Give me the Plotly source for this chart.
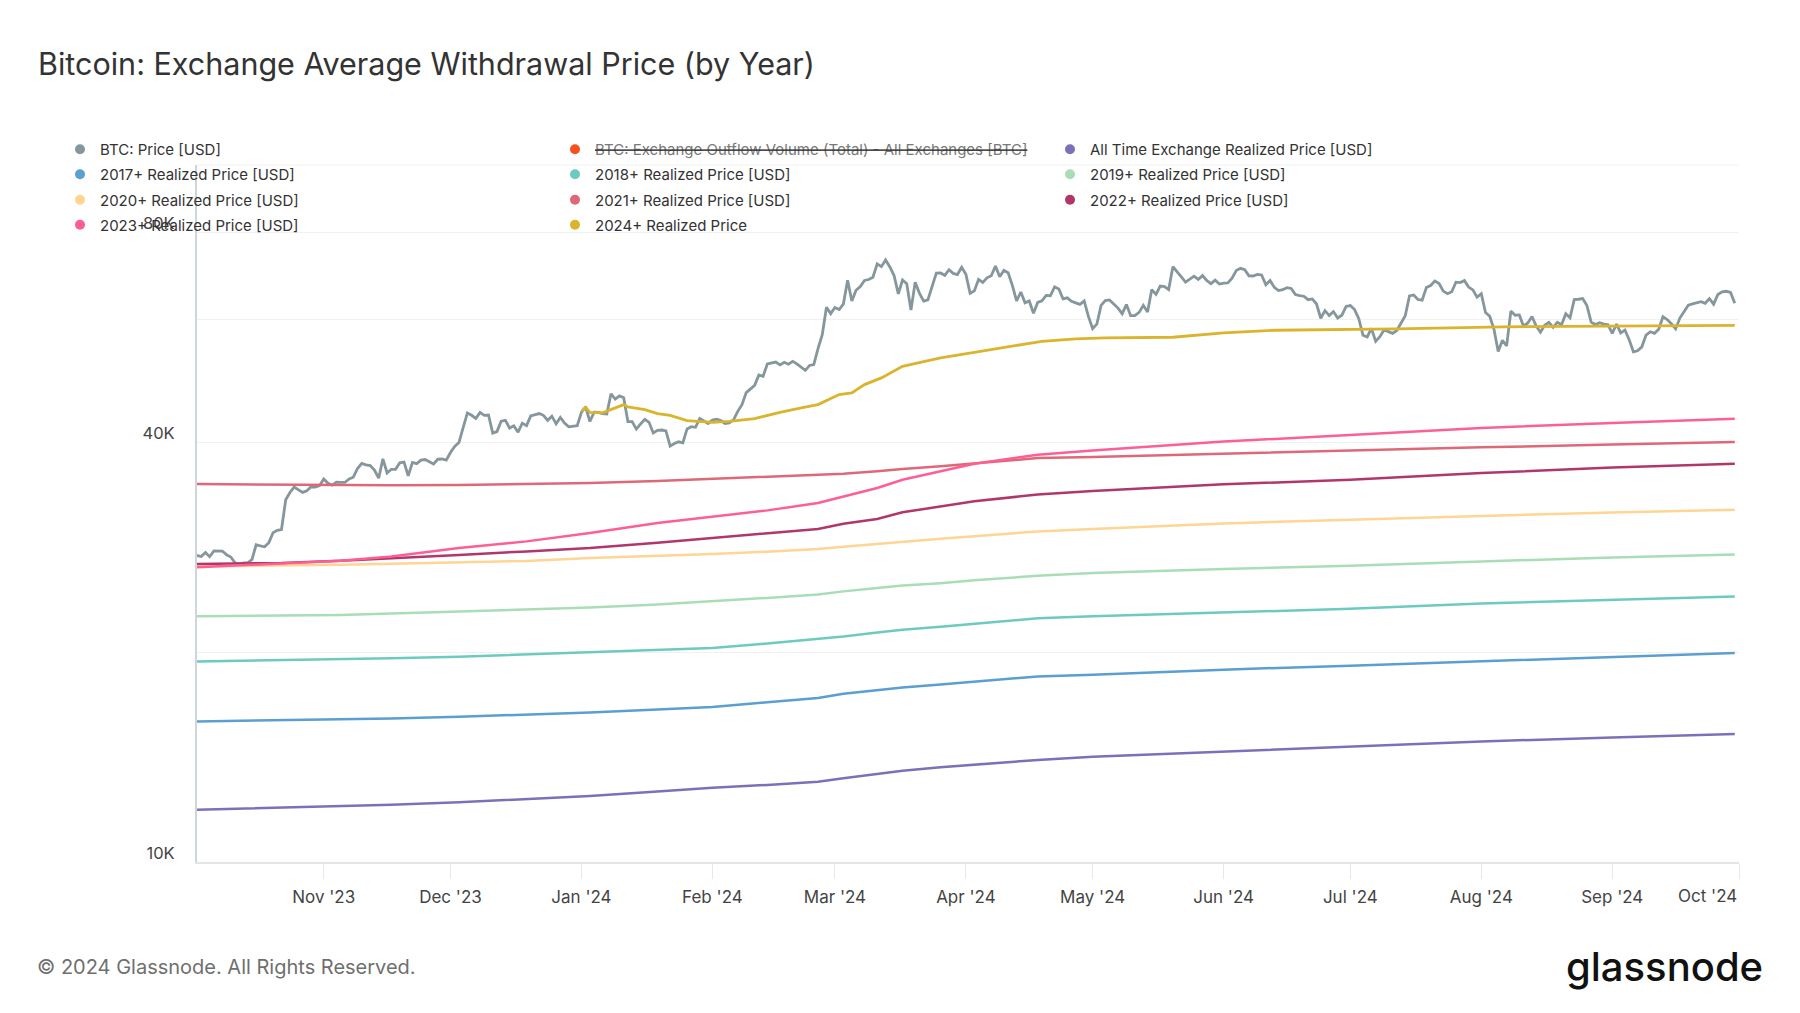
import pandas as pd
import plotly.graph_objects as go

# ---------------- DATA ----------------
# BTC daily price [USD], by month (first month starts 2023-10-02)
btc_oct23 = [27530, 27429, 27800, 27415, 27946, 27968, 27936, 27583, 27391, 26873, 26756, 26862, 26861, 27159, 28519,
             28415, 28328, 28719, 29682, 29919, 29992, 33086, 33901, 34502, 34156, 33909, 34089, 34538, 34502, 34667]
btc_nov23 = [35437, 34938, 34732, 35082, 35049, 35038, 35443, 35655, 36693, 37313, 37138, 37054, 36502, 35537, 37880,
             36154, 36596, 36585, 37386, 37476, 35813, 37432, 37289, 37720, 37797, 37479, 37254, 37831, 37859, 37712]
btc_dec23 = [38688, 39476, 39978, 41980, 44080, 43746, 43293, 44166, 43726, 43779, 41243, 41450, 42890, 43023, 41929,
             42240, 41364, 42623, 42270, 43652, 43869, 43997, 43740, 43016, 43613, 42520, 43442, 42627, 42100, 42156, 42265]
btc_jan24 = [44168, 44958, 42848, 44180, 44162, 43989, 43943, 46970, 46139, 46627, 46368, 42853, 42842, 41796, 42511,
             43154, 42742, 41262, 41618, 41665, 41545, 39507, 39845, 40077, 39933, 41816, 42120, 42035, 43288, 42952, 42582]
btc_feb24 = [43075, 43185, 42992, 42583, 42658, 43084, 44319, 45301, 47147, 47771, 48293, 49958, 49742, 51826, 51938,
             52160, 51663, 52122, 51780, 52284, 51839, 51305, 50731, 51571, 51733, 54522, 57085, 62504, 61198]
btc_mar24 = [62440, 62029, 63167, 68330, 63801, 66106, 66925, 68300, 68498, 69019, 72123, 71481, 73083, 71397, 69403,
             65316, 68390, 67548, 61912, 67913, 65491, 63779, 64062, 67234, 69958, 69987, 69455, 70744, 69892, 69645, 71333]
btc_apr24 = [69702, 65446, 65980, 68508, 67838, 68896, 69362, 71632, 69140, 70587, 70060, 67195, 63821, 65738, 63426,
             63811, 61276, 63512, 63843, 64994, 64927, 66837, 66407, 64276, 64482, 63756, 63420, 63113, 63841, 60636]
btc_may24 = [58254, 59123, 62889, 63891, 64031, 63161, 62334, 61187, 63049, 60792, 60793, 61448, 62901, 61553, 66267,
             65231, 67051, 66940, 66278, 71448, 70136, 69122, 67929, 68526, 69265, 68518, 69394, 68296, 67578, 68364, 67491]
btc_jun24 = [67706, 67751, 68804, 70567, 71082, 70757, 69342, 69305, 69648, 69540, 67314, 68263, 66773, 66044, 66228,
             66676, 66505, 65175, 64974, 64828, 64096, 64253, 63181, 60277, 61804, 60812, 61612, 60320, 60887, 62678]
btc_jul24 = [62851, 62029, 60173, 56977, 56662, 58303, 55849, 56705, 58009, 57743, 57344, 57899, 59231, 60788, 64870,
             65097, 64119, 63975, 66710, 67164, 68154, 67585, 65927, 65372, 65777, 67912, 67813, 68255, 66819, 66201, 64620]
btc_aug24 = [65357, 61415, 60681, 58116, 53991, 56034, 55027, 61710, 60881, 60945, 58719, 59354, 60609, 58737, 57560,
             58894, 59478, 58483, 59493, 59012, 61175, 60381, 64094, 64178, 64333, 62880, 59504, 59027, 59388, 59119, 58970]
btc_sep24 = [57325, 59112, 57431, 57971, 56160, 53949, 54140, 54841, 57019, 57648, 57343, 58127, 60571, 60005, 59182,
             58192, 60309, 61649, 62940, 63192, 63394, 63648, 63329, 64301, 63143, 65181, 65790, 65888, 65635, 63330]
btc_month_starts = ['2023-10-02', '2023-11-01', '2023-12-01', '2024-01-01', '2024-02-01', '2024-03-01',
                    '2024-04-01', '2024-05-01', '2024-06-01', '2024-07-01', '2024-08-01', '2024-09-01']
btc_months = [btc_oct23, btc_nov23, btc_dec23, btc_jan24, btc_feb24, btc_mar24,
              btc_apr24, btc_may24, btc_jun24, btc_jul24, btc_aug24, btc_sep24]

# Realized prices [thousand USD] at shared dates
rp_dates = ['2023-10-02', '2023-10-22', '2023-11-05', '2023-11-17', '2023-12-03', '2023-12-19', '2024-01-03',
            '2024-01-19', '2024-02-01', '2024-02-14', '2024-02-26', '2024-03-03', '2024-03-11', '2024-03-17',
            '2024-03-26', '2024-04-03', '2024-04-18', '2024-05-01', '2024-06-01', '2024-07-01', '2024-08-01',
            '2024-09-01', '2024-09-30']
rp_all_time = [11.88, 11.96, 12.02, 12.08, 12.18, 12.30, 12.44, 12.62, 12.78, 12.90, 13.04, 13.19, 13.38, 13.52,
               13.68, 13.80, 14.01, 14.16, 14.40, 14.64, 14.89, 15.09, 15.26]
rp_2017 = [15.91, 15.97, 16.01, 16.07, 16.16, 16.26, 16.38, 16.55, 16.69, 16.95, 17.19, 17.43, 17.65, 17.80,
           17.98, 18.14, 18.46, 18.57, 18.88, 19.13, 19.40, 19.68, 19.95]
rp_2018 = [19.40, 19.47, 19.53, 19.60, 19.70, 19.85, 20.01, 20.16, 20.28, 20.58, 20.89, 21.07, 21.35, 21.54,
           21.75, 21.96, 22.37, 22.52, 22.82, 23.08, 23.49, 23.80, 24.04]
rp_2019 = [22.52, 22.57, 22.62, 22.72, 22.87, 23.02, 23.18, 23.42, 23.66, 23.93, 24.19, 24.45, 24.72, 24.92,
           25.12, 25.36, 25.74, 25.98, 26.32, 26.61, 26.99, 27.35, 27.62]
rp_2020 = [26.55, 26.62, 26.70, 26.79, 26.90, 27.04, 27.30, 27.48, 27.66, 27.88, 28.12, 28.33, 28.60, 28.84,
           29.08, 29.33, 29.80, 30.05, 30.60, 30.98, 31.39, 31.74, 32.02]
rp_2021 = [34.85, 34.78, 34.74, 34.72, 34.74, 34.82, 34.98, 35.20, 35.45, 35.65, 35.87, 36.06, 36.35, 36.63,
           36.95, 37.28, 37.98, 38.12, 38.56, 38.93, 39.35, 39.71, 40.06]
rp_2022 = [26.76, 26.85, 27.05, 27.30, 27.58, 27.90, 28.21, 28.72, 29.17, 29.65, 30.04, 30.57, 31.05, 31.75,
           32.37, 32.92, 33.67, 34.05, 34.82, 35.36, 36.15, 36.80, 37.28]
rp_2023 = [26.47, 26.79, 27.06, 27.44, 28.21, 28.84, 29.65, 30.64, 31.26, 31.95, 32.74, 33.46, 34.41, 35.36,
           36.34, 37.28, 38.41, 38.95, 40.10, 41.04, 41.96, 42.66, 43.23]

rp_2024_dates = ['2024-01-01', '2024-01-02', '2024-01-03', '2024-01-06', '2024-01-11', '2024-01-12', '2024-01-16',
                 '2024-01-19', '2024-01-22', '2024-01-26', '2024-02-01', '2024-02-05', '2024-02-11', '2024-02-17',
                 '2024-02-22', '2024-02-26', '2024-03-02', '2024-03-05', '2024-03-08', '2024-03-12', '2024-03-17',
                 '2024-03-23', '2024-03-26', '2024-04-03', '2024-04-11', '2024-04-19', '2024-04-27', '2024-05-04',
                 '2024-05-20', '2024-06-01', '2024-06-13', '2024-07-12', '2024-08-06', '2024-09-07', '2024-09-30']
rp_2024 = [44.33, 44.92, 44.18, 44.09, 45.31, 44.97, 44.57, 43.99, 43.74, 42.98, 42.74, 42.88, 43.27, 44.18,
           44.82, 45.31, 46.85, 47.10, 48.41, 49.49, 51.42, 52.45, 52.87, 53.86, 54.83, 55.86, 56.30, 56.49,
           56.61, 57.43, 57.93, 58.20, 58.59, 58.84, 58.89]

x_tick_dates = ['2023-11-01', '2023-12-01', '2024-01-01', '2024-02-01', '2024-03-01', '2024-04-01',
                '2024-05-01', '2024-06-01', '2024-07-01', '2024-08-01', '2024-09-01', '2024-10-01']
x_tick_text = ["Nov '23", "Dec '23", "Jan '24", "Feb '24", "Mar '24", "Apr '24",
               "May '24", "Jun '24", "Jul '24", "Aug '24", "Sep '24", ""]
y_tick_vals = [10000, 20000, 40000, 60000, 80000, 100000]
y_tick_text = ['10K', '', '40K', '', '80K', '']

# ---------------- BUILD ----------------
btc_x, btc_y = [], []
for start, vals in zip(btc_month_starts, btc_months):
    btc_x += list(pd.date_range(start, periods=len(vals), freq='D'))
    btc_y += vals

K = lambda arr: [v * 1000 for v in arr]

series = [
    ('BTC: Price [USD]', '#85969c', btc_x, btc_y, 2.8),
    ('All Time Exchange Realized Price [USD]', '#7d70b9', rp_dates, K(rp_all_time), 2.5),
    ('2017+ Realized Price [USD]', '#5b9ed0', rp_dates, K(rp_2017), 2.5),
    ('2018+ Realized Price [USD]', '#6ccbbe', rp_dates, K(rp_2018), 2.5),
    ('2019+ Realized Price [USD]', '#a9ddb6', rp_dates, K(rp_2019), 2.5),
    ('2020+ Realized Price [USD]', '#fed592', rp_dates, K(rp_2020), 2.5),
    ('2021+ Realized Price [USD]', '#df6878', rp_dates, K(rp_2021), 2.5),
    ('2022+ Realized Price [USD]', '#b1376b', rp_dates, K(rp_2022), 2.5),
    ('2023+ Realized Price [USD]', '#fe5f92', rp_dates, K(rp_2023), 2.5),
    ('2024+ Realized Price', '#dbb42e', rp_2024_dates, K(rp_2024), 2.8),
]

fig = go.Figure()
for name, color, xs, ys, w in series:
    fig.add_trace(go.Scatter(x=xs, y=ys, mode='lines', name=name, showlegend=False,
                             line=dict(color=color, width=w), hoverinfo='skip'))

colors = {n: c for n, c, *_ in series}
outflow_name = ('<s><span style="color:#7a7a7a">BTC: Exchange Outflow Volume (Total) - '
                'All Exchanges [BTC]</span></s>')
legend_items = [
    ('BTC: Price [USD]', colors['BTC: Price [USD]'], 0, 0),
    (outflow_name, '#f4511e', 0, 1),
    ('All Time Exchange Realized Price [USD]', colors['All Time Exchange Realized Price [USD]'], 0, 2),
    ('2017+ Realized Price [USD]', colors['2017+ Realized Price [USD]'], 1, 0),
    ('2018+ Realized Price [USD]', colors['2018+ Realized Price [USD]'], 1, 1),
    ('2019+ Realized Price [USD]', colors['2019+ Realized Price [USD]'], 1, 2),
    ('2020+ Realized Price [USD]', colors['2020+ Realized Price [USD]'], 2, 0),
    ('2021+ Realized Price [USD]', colors['2021+ Realized Price [USD]'], 2, 1),
    ('2022+ Realized Price [USD]', colors['2022+ Realized Price [USD]'], 2, 2),
    ('2023+ Realized Price [USD]', colors['2023+ Realized Price [USD]'], 3, 0),
    ('2024+ Realized Price', colors['2024+ Realized Price'], 3, 1),
]

# figure size (page body adds an 8px offset) and plot area in figure pixels
W, H = 1792, 1005
PL, PR, PT, PB = 189, 1731, 157, 854.5
PW, PH = PR - PL, PB - PT
col_left_px = [52, 547, 1042]
row_center_px = [141.5, 166.5, 192, 217]

legend_layouts = {}
for i, (name, color, r, c) in enumerate(legend_items):
    key = 'legend' if i == 0 else f'legend{i + 1}'
    fig.add_trace(go.Scatter(x=[None], y=[None], mode='markers', name=name, legend=key,
                             marker=dict(color=color, size=10, symbol='circle'), hoverinfo='skip'))
    legend_layouts[key] = dict(
        x=(col_left_px[c] - PL) / PW, xanchor='left',
        y=(PB - row_center_px[r]) / PH, yanchor='middle',
        orientation='h', bgcolor='rgba(0,0,0,0)', borderwidth=0,
        font=dict(family='Inter', size=15, color='#333333'),
        itemclick=False, itemdoubleclick=False,
    )

fig.update_layout(
    width=W, height=H,
    paper_bgcolor='white', plot_bgcolor='white',
    margin=dict(l=PL, r=W - PR, t=PT, b=H - PB, autoexpand=False),
    font=dict(family='Inter', color='#333333'),
    title=dict(text='Bitcoin: Exchange Average Withdrawal Price (by Year)', xref='container', x=30 / W,
               xanchor='left', y=1 - 56 / H, yanchor='middle',
               font=dict(family='Inter', size=30.5, color='#333333')),
    xaxis=dict(type='date', range=['2023-10-02', '2024-10-01'], tickvals=x_tick_dates, ticktext=x_tick_text,
               showgrid=False, zeroline=False, ticks='outside', ticklen=15, tickwidth=1, tickcolor='#e8e8e8',
               showline=True, linecolor='#e4e4e4', linewidth=2, ticklabelstandoff=4,
               tickfont=dict(family='Inter', size=17, color='#444444')),
    yaxis=dict(type='log', range=[4, 5], tickvals=y_tick_vals, ticktext=y_tick_text,
               showgrid=True, gridcolor='#f1f1f1', gridwidth=1, zeroline=False,
               showline=True, linecolor='#cfd6db', linewidth=2, ticks='',
               ticklabelshift=-9, ticklabelstandoff=17,
               tickfont=dict(family='Inter', size=16.5, color='#444444')),
    hovermode=False,
    shapes=[dict(type='line', xref='paper', yref='paper', x0=0, x1=1, y0=1, y1=1,
                 line=dict(color='#f1f1f1', width=1), layer='below')],
    **legend_layouts,
)

fig.add_annotation(text="Oct '24", x='2024-10-01', xref='x', y=(PB - 889) / PH, yref='paper',
                   xanchor='right', yanchor='middle', showarrow=False,
                   font=dict(family='Inter', size=17, color='#444444'))
fig.add_annotation(text='© 2024 Glassnode. All Rights Reserved.', x=(27 - PL) / PW, xref='paper',
                   y=(PB - 960) / PH, yref='paper', xanchor='left', yanchor='middle', showarrow=False,
                   font=dict(family='Inter', size=20, color='#6f6f6f'))
fig.add_annotation(text='glassnode', x=(1757 - PL) / PW, xref='paper',
                   y=(PB - 959) / PH, yref='paper', xanchor='right', yanchor='middle', showarrow=False,
                   font=dict(family='Inter', size=40, color='#111111', weight=500))

fig.write_html('out.html')
